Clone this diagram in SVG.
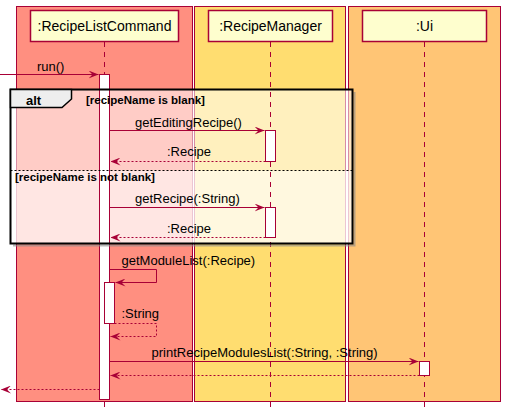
<svg xmlns="http://www.w3.org/2000/svg" width="505" height="413" viewBox="0 0 505 413">
<style>
.lane{stroke:#A80036;stroke-width:1}
.pbox{fill:#FEFECE;stroke:#A80036;stroke-width:1.5}
.pt{font-family:"Liberation Sans",Arial,sans-serif;font-size:14px;fill:#000}
.life{stroke:#A80036;stroke-width:1;stroke-dasharray:5,5;fill:none}
.act{fill:#FFFFFF;stroke:#A80036;stroke-width:1}
.msg{stroke:#A80036;stroke-width:1;fill:none}
.ret{stroke:#A80036;stroke-width:1;fill:none;stroke-dasharray:2,2}
.mt{font-family:"Liberation Sans",Arial,sans-serif;font-size:13px;fill:#000}
.gt{font-family:"Liberation Sans",Arial,sans-serif;font-size:11.5px;font-weight:bold;fill:#000}
</style>
<defs>
<marker id="arr" viewBox="0 0 10 8" refX="10" refY="4" markerWidth="10" markerHeight="8" markerUnits="userSpaceOnUse" orient="auto">
<polygon points="0,0 10,4 0,8 4,4" fill="#A80036"/>
</marker>
</defs>
<g id="lanes">
<rect id="lane1" class="lane" x="16.5" y="6.5" width="176" height="395" fill="#FF8F80"/>
<rect id="lane2" class="lane" x="194.5" y="6.5" width="151" height="395" fill="#FFDD70"/>
<rect id="lane3" class="lane" x="348.5" y="6.5" width="152" height="395" fill="#FFC575"/>
</g>
<g id="alt-fill">
<rect x="10.5" y="89.5" width="342" height="154" fill="#FFFFFF" opacity="0.55"/>
<rect x="10.5" y="170.5" width="342" height="73" fill="#FFFFFF" opacity="0.5"/>
</g>
<g id="RecipeListCommand">
<line class="life" x1="104.5" y1="42" x2="104.5" y2="408"/>
<rect class="pbox" x="30.5" y="10.5" width="148" height="31"/>
<text class="pt" x="104.5" y="31" text-anchor="middle">:RecipeListCommand</text>
<rect class="act" x="99.5" y="74.5" width="10" height="325"/>
<rect class="act" x="104.5" y="282.5" width="10" height="41"/>
</g>
<g id="RecipeManager">
<line class="life" x1="270.5" y1="42" x2="270.5" y2="408"/>
<rect class="pbox" x="208.5" y="10.5" width="124" height="31"/>
<text class="pt" x="270.5" y="31" text-anchor="middle">:RecipeManager</text>
<rect class="act" x="265.5" y="130.5" width="10" height="31"/>
<rect class="act" x="265.5" y="207.5" width="10" height="30"/>
</g>
<g id="Ui">
<line class="life" x1="424.5" y1="42" x2="424.5" y2="408"/>
<rect class="pbox" x="362.5" y="10.5" width="124" height="31"/>
<text class="pt" x="424.5" y="31" text-anchor="middle">:Ui</text>
<rect class="act" x="419.5" y="361.5" width="10" height="14"/>
</g>
<g id="connectors">
<line class="msg" x1="0" y1="74.5" x2="98.5" y2="74.5" marker-end="url(#arr)"/>
<text class="mt" x="37" y="71">run()</text>
<line class="msg" x1="109.5" y1="130.5" x2="264.5" y2="130.5" marker-end="url(#arr)"/>
<text class="mt" x="135" y="127">getEditingRecipe()</text>
<line class="ret" x1="265.5" y1="161.5" x2="110.5" y2="161.5" marker-end="url(#arr)"/>
<text class="mt" x="167" y="156">:Recipe</text>
<line class="msg" x1="109.5" y1="207.5" x2="264.5" y2="207.5" marker-end="url(#arr)"/>
<text class="mt" x="135" y="203">getRecipe(:String)</text>
<line class="ret" x1="265.5" y1="237.5" x2="110.5" y2="237.5" marker-end="url(#arr)"/>
<text class="mt" x="167" y="233">:Recipe</text>
<polyline class="msg" points="109.5,269.5 156.5,269.5 156.5,282.5 115.5,282.5" marker-end="url(#arr)"/>
<text class="mt" x="121.5" y="265">getModuleList(:Recipe)</text>
<polyline class="ret" points="114.5,323.5 156.5,323.5 156.5,336.5 110.5,336.5" marker-end="url(#arr)"/>
<text class="mt" x="121.5" y="318">:String</text>
<line class="msg" x1="109.5" y1="361.5" x2="418.5" y2="361.5" marker-end="url(#arr)"/>
<text class="mt" x="151.5" y="357">printRecipeModulesList(:String, :String)</text>
<line class="ret" x1="419.5" y1="375.5" x2="110.5" y2="375.5" marker-end="url(#arr)"/>
<line class="ret" x1="99.5" y1="389.5" x2="1" y2="389.5" marker-end="url(#arr)"/>
</g>
<g id="alt">
<path d="M354.5,92 V245.5 H13" fill="none" stroke="#888" stroke-width="2" opacity="0.6"/>
<rect x="10.5" y="89.5" width="342" height="154" fill="none" stroke="#000" stroke-width="2"/>
<path d="M10.5,89.5 H71.5 V99 L62,107.5 H10.5 Z" fill="#EEEEEE" stroke="#000" stroke-width="1.5"/>
<text x="26" y="104.5" font-family="Liberation Sans,Arial,sans-serif" font-size="13" font-weight="bold">alt</text>
<text class="gt" x="86" y="104">[recipeName is blank]</text>
<line x1="10.5" y1="170.5" x2="352.5" y2="170.5" stroke="#000" stroke-width="1" stroke-dasharray="2,2"/>
<text class="gt" x="15" y="180.5">[recipeName is not blank]</text>
</g>
</svg>
